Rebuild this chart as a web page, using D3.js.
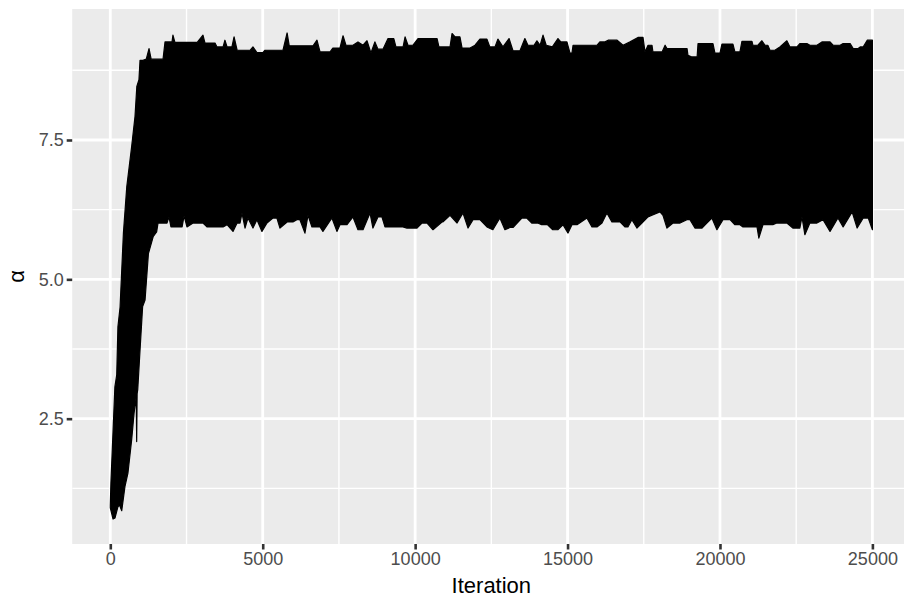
<!DOCTYPE html>
<html>
<head>
<meta charset="utf-8">
<script src="https://cdn.jsdelivr.net/npm/d3@7"></script>
<style>
  html, body { margin: 0; padding: 0; background: #ffffff; }
  svg { display: block; }
  text { font-family: "Liberation Sans", Arial, Helvetica, sans-serif; }
</style>
</head>
<body>
<svg id="chart" width="904" height="601"></svg>
<script>
// Upper envelope of the trace (iteration, alpha)
const topIter = [0,20,150,210,250,320,430,540,700,810,870,940,975,1070,1180,1270,1340,1730,1795,2025,2055,2120,2850,3040,3105,3435,3500,3700,3760,3830,3990,4060,4160,4590,4680,4810,5010,5075,5665,5800,5870,6650,6780,6880,7210,7300,7535,7635,7730,7960,8125,8290,8420,8550,8680,8780,8945,9110,9300,9370,9605,9670,9765,9930,10095,10720,10780,11145,11210,11310,11470,11540,11800,11965,12125,12355,12450,12620,12715,12880,13080,13210,13440,13600,13700,13900,13995,14100,14195,14300,14500,14685,14780,14980,15080,15145,15180,15970,16060,16230,16330,16625,16820,17050,17310,17475,17540,17640,17770,17800,18100,18200,18260,18920,18950,19080,19250,19280,19770,19835,20000,20065,20425,20490,20655,20720,21050,21080,21245,21375,21480,21570,21640,21800,21965,22195,22295,22525,22620,22850,22950,23180,23345,23610,23710,23940,24040,24270,24370,24535,24600,24700,24830,25000];
const topAlpha = [0.95,1.35,3.07,3.28,4.15,4.5,5.83,6.66,7.38,7.92,8.46,8.58,8.93,8.93,8.95,9.14,8.95,8.95,9.26,9.26,9.38,9.25,9.25,9.38,9.24,9.24,9.17,9.17,9.29,9.17,9.17,9.35,9.11,9.11,9.17,9.07,9.07,9.11,9.11,9.42,9.19,9.19,9.29,9.08,9.08,9.15,9.15,9.37,9.2,9.2,9.26,9.2,9.28,9.06,9.26,9.13,9.13,9.32,9.32,9.17,9.17,9.35,9.2,9.2,9.32,9.32,9.17,9.17,9.41,9.35,9.35,9.15,9.15,9.2,9.31,9.31,9.17,9.17,9.31,9.17,9.32,9.1,9.1,9.32,9.2,9.2,9.28,9.2,9.38,9.2,9.17,9.32,9.26,9.26,9.06,9.06,9.2,9.2,9.26,9.26,9.29,9.29,9.2,9.26,9.34,9.34,9.08,9.2,9.2,9.08,9.08,9.2,9.14,9.14,9.02,8.99,8.99,9.23,9.23,9.06,9.06,9.22,9.22,9.08,9.08,9.27,9.27,9.2,9.2,9.28,9.2,9.2,9.11,9.11,9.17,9.28,9.17,9.17,9.23,9.23,9.2,9.2,9.26,9.26,9.2,9.2,9.23,9.23,9.14,9.14,9.17,9.17,9.29,9.29];

// Lower envelope of the trace (iteration, alpha)
const botIter = [0,90,155,250,300,375,480,580,700,780,850,865,880,900,975,1060,1140,1250,1410,1520,1565,1860,1925,1990,2355,2420,2515,2715,3040,3170,3700,3830,4025,4160,4255,4320,4420,4515,4680,4810,4975,5140,5335,5465,5565,5800,5990,6120,6220,6385,6485,6615,6880,6975,7270,7435,7535,7765,7960,8125,8290,8520,8615,8780,8910,9010,9600,9730,10060,10225,10390,10585,10880,10915,11145,11375,11570,11735,11900,12125,12355,12550,12780,12945,13110,13210,13500,13660,13825,14020,14150,14345,14515,14680,14850,15015,15145,15310,15635,15800,15965,16130,16290,16455,16720,16880,16980,17110,17275,17440,17640,17770,18030,18130,18260,18460,18690,18915,19015,19178,19410,19570,19735,19900,20100,20330,20490,20655,20755,21215,21275,21410,21735,21865,22195,22390,22620,22690,22785,22950,23180,23380,23610,23870,24040,24335,24500,24700,24865,25000];
const botAlpha = [0.9,0.70,0.72,0.92,0.95,0.85,1.28,1.53,2.12,2.6,2.9,2.09,2.95,3.02,3.73,4.51,4.63,5.46,5.77,5.85,6.01,6.01,6.12,5.94,5.94,6.14,5.94,6.01,6.01,5.94,5.94,5.98,5.86,6.01,6.01,6.19,5.92,6.10,5.92,6.07,5.86,6.01,6.10,6.10,5.92,6.03,6.03,6.07,6.07,5.83,6.15,5.94,5.94,5.86,6.10,5.86,5.98,5.98,6.12,5.89,5.89,6.19,5.92,6.12,6.12,5.94,5.94,5.92,5.92,6.01,6.01,5.89,6.03,6.03,6.15,6.01,6.19,5.92,6.07,6.07,5.94,5.89,6.10,5.89,5.93,5.93,6.10,6.10,6.01,6.01,5.98,5.98,5.89,5.89,5.98,5.83,5.98,5.98,6.10,5.94,5.94,6.01,6.19,6.03,6.03,5.94,5.94,6.07,5.92,6.01,6.12,6.15,6.21,6.15,5.92,6.01,6.01,6.07,6.07,5.92,5.92,6.01,6.10,5.89,6.07,6.07,5.98,5.98,5.94,5.94,5.74,5.98,5.98,6.01,6.01,5.92,5.92,6.12,5.80,6.01,6.01,6.07,5.86,6.10,5.94,6.21,5.92,6.10,6.10,5.89];

const xTicks = [0, 5000, 10000, 15000, 20000, 25000];
const xMinor = [2500, 7500, 12500, 17500, 22500];
const yTicks = [2.5, 5.0, 7.5];
const yMinor = [1.25, 3.75, 6.25, 8.75];
const xTitle = "Iteration";
const yTitle = "α";

const svg = d3.select("#chart");
const panel = { left: 72.2, right: 910.5, top: 9, bottom: 544 };

const x = d3.scaleLinear().domain([-1250, 26250]).range([panel.left, panel.right]);
const y = d3.scaleLinear().domain([0.252, 9.850]).range([panel.bottom, panel.top]);

svg.append("defs").append("clipPath").attr("id", "clip")
  .append("rect").attr("x", panel.left).attr("y", panel.top)
  .attr("width", panel.right - panel.left).attr("height", panel.bottom - panel.top);

svg.append("rect").attr("x", panel.left).attr("y", panel.top)
  .attr("width", panel.right - panel.left).attr("height", panel.bottom - panel.top)
  .attr("fill", "#EBEBEB");

const grid = svg.append("g").attr("clip-path", "url(#clip)");
grid.selectAll(".ymin").data(yMinor).enter().append("line")
  .attr("x1", panel.left).attr("x2", panel.right)
  .attr("y1", d => y(d)).attr("y2", d => y(d))
  .attr("stroke", "#ffffff").attr("stroke-width", 1.4);
grid.selectAll(".xmin").data(xMinor).enter().append("line")
  .attr("y1", panel.top).attr("y2", panel.bottom)
  .attr("x1", d => x(d)).attr("x2", d => x(d))
  .attr("stroke", "#ffffff").attr("stroke-width", 1.4);
grid.selectAll(".ymaj").data(yTicks).enter().append("line")
  .attr("x1", panel.left).attr("x2", panel.right)
  .attr("y1", d => y(d)).attr("y2", d => y(d))
  .attr("stroke", "#ffffff").attr("stroke-width", 2.8);
grid.selectAll(".xmaj").data(xTicks).enter().append("line")
  .attr("y1", panel.top).attr("y2", panel.bottom)
  .attr("x1", d => x(d)).attr("x2", d => x(d))
  .attr("stroke", "#ffffff").attr("stroke-width", 2.8);

// Trace band: upper envelope left->right, lower envelope right->left
const topPts = topIter.map((it, i) => [it, topAlpha[i]]);
const botPts = botIter.map((it, i) => [it, botAlpha[i]]).reverse();
const poly = topPts.concat(botPts);
const lineGen = d3.line().x(d => x(d[0])).y(d => y(d[1]));

grid.append("path")
  .attr("d", lineGen(poly) + "Z")
  .attr("fill", "#000000")
  .attr("stroke", "#000000")
  .attr("stroke-width", 1.2)
  .attr("stroke-linejoin", "round");

// Axes
const xAxis = d3.axisBottom(x).tickValues(xTicks).tickSize(5.5).tickPadding(3).tickFormat(d3.format("d"));
const gx = svg.append("g").attr("transform", `translate(0,${panel.bottom})`).call(xAxis);
gx.select(".domain").remove();
gx.selectAll(".tick line").attr("stroke", "#333333").attr("stroke-width", 2.6);
gx.selectAll(".tick text").attr("fill", "#4D4D4D").style("font-size", "18px")
  .style("font-family", "'Liberation Sans', Arial, sans-serif");

const yAxis = d3.axisLeft(y).tickValues(yTicks).tickSize(5.5).tickPadding(3).tickFormat(d3.format(".1f"));
const gy = svg.append("g").attr("transform", `translate(${panel.left},0)`).call(yAxis);
gy.select(".domain").remove();
gy.selectAll(".tick line").attr("stroke", "#333333").attr("stroke-width", 2.6);
gy.selectAll(".tick text").attr("fill", "#4D4D4D").style("font-size", "18px")
  .style("font-family", "'Liberation Sans', Arial, sans-serif");

svg.append("text").attr("x", (panel.left + panel.right) / 2).attr("y", 593)
  .attr("text-anchor", "middle").attr("fill", "#000000")
  .style("font-size", "22px").text(xTitle);

svg.append("text")
  .attr("transform", `translate(24,${(panel.top + panel.bottom) / 2}) rotate(-90)`)
  .attr("text-anchor", "middle").attr("fill", "#000000")
  .style("font-size", "22px").text(yTitle);
</script>
</body>
</html>
